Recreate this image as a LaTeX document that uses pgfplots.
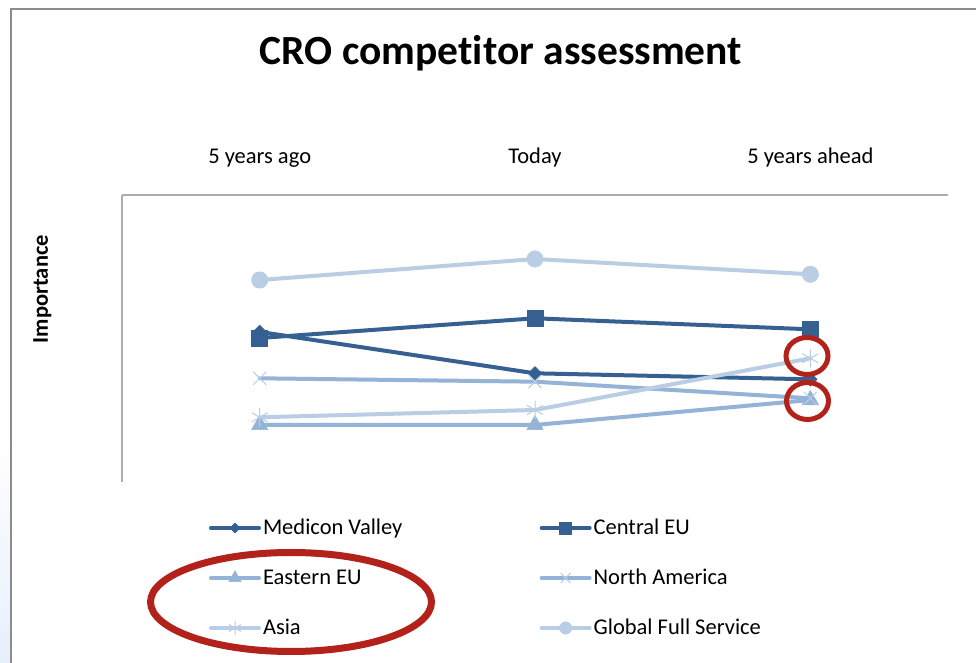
\documentclass[border=0pt]{standalone}
\usepackage{pgfplots}
\pgfplotsset{compat=1.18}
\usepackage{fontspec}
\setmainfont{Carlito}[Ligatures={NoCommon,NoRare,NoDiscretionary},Contextuals={NoAlternate}]
\definecolor{dk}{HTML}{376092}
\definecolor{md}{HTML}{95B3D7}
\definecolor{lt}{HTML}{B9CDE5}
\definecolor{rd}{HTML}{B2221A}
\definecolor{fr}{HTML}{8C8C8C}
\begin{document}
\begin{tikzpicture}
\useasboundingbox (0,0) rectangle (976pt,663pt);
\fill[white] (0,0) rectangle (976pt,663pt);
\shade[top color=white,bottom color={rgb,255:red,230;green,240;blue,252}] (0,0) rectangle (10.3pt,230pt);
\draw[fr, line width=1.5pt] (11pt,-2pt) -- (11pt,654pt) -- (980pt,654pt);
\begin{axis}[
  at={(122pt,181pt)}, anchor=south west,
  width=826pt, height=287pt, scale only axis,
  xmin=-0.5, xmax=2.5, ymin=0, ymax=10,
  clip=false,
  axis x line=top, axis y line=left,
  axis line style={-, draw=black!32, line width=1.3pt},
  xtick={0,1,2}, xticklabels={5 years ago,Today,5 years ahead},
  xtick style={draw=none}, ytick=\empty,
  major tick length=0pt,
  xticklabel style={anchor=base, yshift=31pt, inner sep=0pt, font=\fontsize{22.5}{27}\selectfont},
  title={CRO compe\mbox{t}\mbox{i}tor assessment},
  title style={at={(axis description cs:0.4588,1.4355)}, anchor=base, inner sep=0pt, font=\bfseries\fontsize{41.5}{48}\selectfont},
  ylabel={Importance},
  ylabel style={at={(axis description cs:-0.0896,0.672)}, anchor=base, inner sep=0pt, font=\bfseries\fontsize{22.5}{27}\selectfont},
  legend columns=2,
  legend cell align=left,
  legend image code/.code={\draw[mark repeat=2,mark phase=2,#1,every mark/.append style={scale=0.75}] plot coordinates {(0pt,0pt) (24pt,0pt) (48pt,0pt)};},
  legend style={draw=none, fill=none, inner sep=0pt, outer sep=0pt,
    at={(axis description cs:0.10533,-0.12195)}, anchor=north west,
    font=\fontsize{22.5}{27}\selectfont,
    nodes={inner sep=0pt, text height=17pt, text depth=5pt},
    cells={anchor=west},
    row sep=28pt,
    /tikz/every odd column/.append style={column sep=2pt},
    /tikz/every even column/.append style={column sep=137.3pt}},
]
\addplot[dk, line width=4pt, line cap=round, line join=round, mark=square*, mark size=4.8pt, mark options={rotate=45, solid, fill=dk, draw=dk, line width=0.5pt}]
  coordinates {(0,5.23) (1,3.787) (2,3.578)};
\addlegendentry{Medicon Valley}
\addplot[dk, line width=4pt, line cap=round, line join=round, mark=square*, mark size=8pt, mark options={solid, fill=dk, draw=dk, line width=0.6pt}]
  coordinates {(0,5.017) (1,5.704) (2,5.320)};
\addlegendentry{Central EU}
\addplot[md, line width=4pt, line cap=round, line join=round, mark=triangle*, mark size=9.5pt, mark options={solid, fill=md, draw=md, line width=0.5pt}]
  coordinates {(0,1.986) (1,1.986) (2,2.857)};
\addlegendentry{Eastern EU}
\addplot[md, line width=4pt, line cap=round, line join=round, mark=x, mark size=9pt, mark options={solid, draw=lt, line width=1pt}]
  coordinates {(0,3.613) (1,3.495) (2,2.916)};
\addlegendentry{North America}
\addplot[lt, line width=4pt, line cap=round, line join=round, mark=asterisk, mark size=9pt, mark options={solid, draw=lt, line width=1pt}]
  coordinates {(0,2.254) (1,2.509) (2,4.310)};
\addlegendentry{Asia}
\addplot[lt, line width=4pt, line cap=round, line join=round, mark=*, mark size=8.2pt, mark options={solid, fill=lt, draw=lt, line width=0.5pt}]
  coordinates {(0,7.038) (1,7.770) (2,7.237)};
\addlegendentry{Global Full Service}
\end{axis}
\draw[rd, line width=5pt] (807pt,307pt) ellipse [x radius=21pt, y radius=18.5pt];
\draw[rd, line width=5pt] (807.5pt,262pt) ellipse [x radius=21pt, y radius=18.5pt];
\draw[rd, line width=7pt] (291pt,61pt) ellipse [x radius=140.5pt, y radius=49.5pt];
\end{tikzpicture}
\end{document}
